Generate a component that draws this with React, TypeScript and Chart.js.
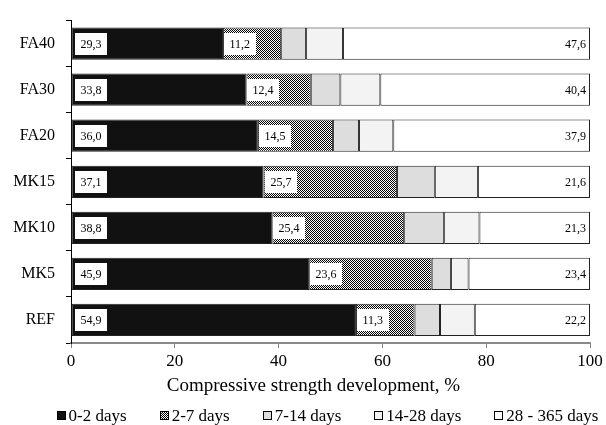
import React, { useEffect, useRef } from 'react';
import { Chart, registerables } from 'chart.js';

Chart.register(...registerables);

const categories = ['FA40', 'FA30', 'FA20', 'MK15', 'MK10', 'MK5', 'REF'];
const seriesNames = ['0-2 days', '2-7 days', '7-14 days', '14-28 days', '28 - 365 days'];
const d0_2 = [29.3, 33.8, 36.0, 37.1, 38.8, 45.9, 54.9];
const d2_7 = [11.2, 12.4, 14.5, 25.7, 25.4, 23.6, 11.3];
const d7_14 = [4.8, 5.7, 5.0, 7.3, 7.7, 3.7, 4.9];
const d14_28 = [7.1, 7.7, 6.6, 8.3, 6.8, 3.4, 6.7];
const d28_365 = [47.6, 40.4, 37.9, 21.6, 21.3, 23.4, 22.2];
const xTickValues = [0, 20, 40, 60, 80, 100];
const axisTitle = 'Compressive strength development, %';
const labelledSeries = [0, 1, 4];

const FONT = '"Liberation Serif", "Times New Roman", serif';

function fmt(v: number) {
  return v.toFixed(1).replace('.', ',');
}

function makePattern(): CanvasPattern | string {
  const c = document.createElement('canvas');
  c.width = 2;
  c.height = 2;
  const g = c.getContext('2d');
  if (!g) return '#888';
  g.fillStyle = '#ffffff';
  g.fillRect(0, 0, 2, 2);
  g.fillStyle = '#000000';
  g.fillRect(0, 0, 1, 1);
  g.fillRect(1, 1, 1, 1);
  const p = g.createPattern(c, 'repeat');
  return p || '#888';
}

const segLabels = {
  id: 'segLabels',
  afterDatasetsDraw(chart: any) {
    const ctx = chart.ctx;
    ctx.save();
    ctx.font = `12px ${FONT}`;
    ctx.textBaseline = 'middle';
    labelledSeries.forEach((di) => {
      const meta = chart.getDatasetMeta(di);
      meta.data.forEach((bar: any, i: number) => {
        const v = chart.data.datasets[di].data[i] as number;
        const txt = fmt(v);
        const { x, y, base } = bar.getProps(['x', 'y', 'base'], true);
        const left = Math.min(x, base);
        const right = Math.max(x, base);
        const tw = ctx.measureText(txt).width;
        if (di === 4) {
          ctx.textAlign = 'right';
          ctx.fillStyle = '#000';
          ctx.fillText(txt, right - 4, y + 1);
        } else {
          const bx = Math.round(left + (di === 0 ? 3 : 1));
          const bw = Math.round(tw + 11);
          const bh = 22;
          ctx.fillStyle = '#fff';
          ctx.fillRect(bx, Math.round(y - bh / 2), bw, bh);
          ctx.textAlign = 'left';
          ctx.fillStyle = '#000';
          ctx.fillText(txt, bx + 5.5, y + 1);
        }
      });
    });
    ctx.restore();
  },
};

const titleAndLegend = {
  id: 'titleAndLegend',
  afterDraw(chart: any) {
    const ctx = chart.ctx;
    const area = chart.chartArea;
    ctx.save();
    // axis title
    ctx.font = `19px ${FONT}`;
    ctx.fillStyle = '#000';
    ctx.textAlign = 'center';
    ctx.textBaseline = 'alphabetic';
    const centre = (area.left + area.right) / 2;
    ctx.fillText(axisTitle, centre - 17, area.bottom + 48);

    // legend
    ctx.font = `17px ${FONT}`;
    const box = 9;
    const gapBox = 3;
    const gapItem = 33;
    const widths = chart.data.datasets.map(
      (ds: any) => box + gapBox + ctx.measureText(ds.label).width
    );
    const total = widths.reduce((a: number, b: number) => a + b, 0) + gapItem * (widths.length - 1);
    let x = centre - 3 - total / 2;
    const baseY = chart.height - 4;
    chart.data.datasets.forEach((ds: any, i: number) => {
      ctx.fillStyle = ds.backgroundColor;
      ctx.fillRect(Math.round(x), baseY - 10, box, box);
      ctx.strokeStyle = '#000';
      ctx.lineWidth = 1;
      ctx.strokeRect(Math.round(x) + 0.5, baseY - 10 + 0.5, box - 1, box - 1);
      ctx.fillStyle = '#000';
      ctx.textAlign = 'left';
      ctx.fillText(ds.label, x + box + gapBox, baseY);
      x += widths[i] + gapItem;
    });
    ctx.restore();
  },
};

export default function App() {
  const ref = useRef<HTMLCanvasElement>(null);

  useEffect(() => {
    if (!ref.current) return;
    const pattern = makePattern();
    const fills = ['#111111', pattern, '#dddddd', '#f3f3f3', '#ffffff'];
    const series = [d0_2, d2_7, d7_14, d14_28, d28_365];
    const chart = new Chart(ref.current, {
      type: 'bar',
      data: {
        labels: categories,
        datasets: series.map((data, i) => ({
          label: seriesNames[i],
          data,
          backgroundColor: fills[i] as any,
          borderColor: '#222222',
          borderWidth: 1,
          borderSkipped: false,
          barPercentage: 0.7,
          categoryPercentage: 1,
        })),
      },
      options: {
        indexAxis: 'y',
        animation: false,
        responsive: true,
        maintainAspectRatio: false,
        layout: { padding: { top: 12, right: 16, left: 0, bottom: 0 } },
        plugins: {
          legend: { display: false },
          tooltip: { enabled: false },
          title: { display: false },
        },
        scales: {
          x: {
            stacked: true,
            min: 0,
            max: 100,
            afterBuildTicks: (scale: any) => {
              scale.ticks = xTickValues.map((v) => ({ value: v }));
            },
            afterFit: (scale: any) => {
              scale.height = 82;
            },
            ticks: {
              color: '#000',
              font: { family: FONT, size: 17 },
              padding: 3,
              maxRotation: 0,
            },
            grid: {
              display: true,
              drawOnChartArea: false,
              drawTicks: true,
              tickLength: 5,
              color: '#808080',
            },
            border: { display: true, color: '#8a8a8a', width: 2 },
          },
          y: {
            stacked: true,
            afterFit: (scale: any) => {
              scale.width = 71;
            },
            ticks: {
              color: '#000',
              font: { family: FONT, size: 16 },
              padding: 11,
            },
            grid: {
              display: true,
              offset: true,
              drawOnChartArea: false,
              drawTicks: true,
              tickLength: 5,
              color: '#000',
            },
            border: { display: true, color: '#000', width: 1 },
          },
        },
      },
      plugins: [segLabels, titleAndLegend],
    });
    return () => chart.destroy();
  }, []);

  return (
    <div style={{ position: 'absolute', left: 0, top: 0, width: 606, height: 425 }}>
      <canvas ref={ref} style={{ width: '606px', height: '425px' }} />
    </div>
  );
}
